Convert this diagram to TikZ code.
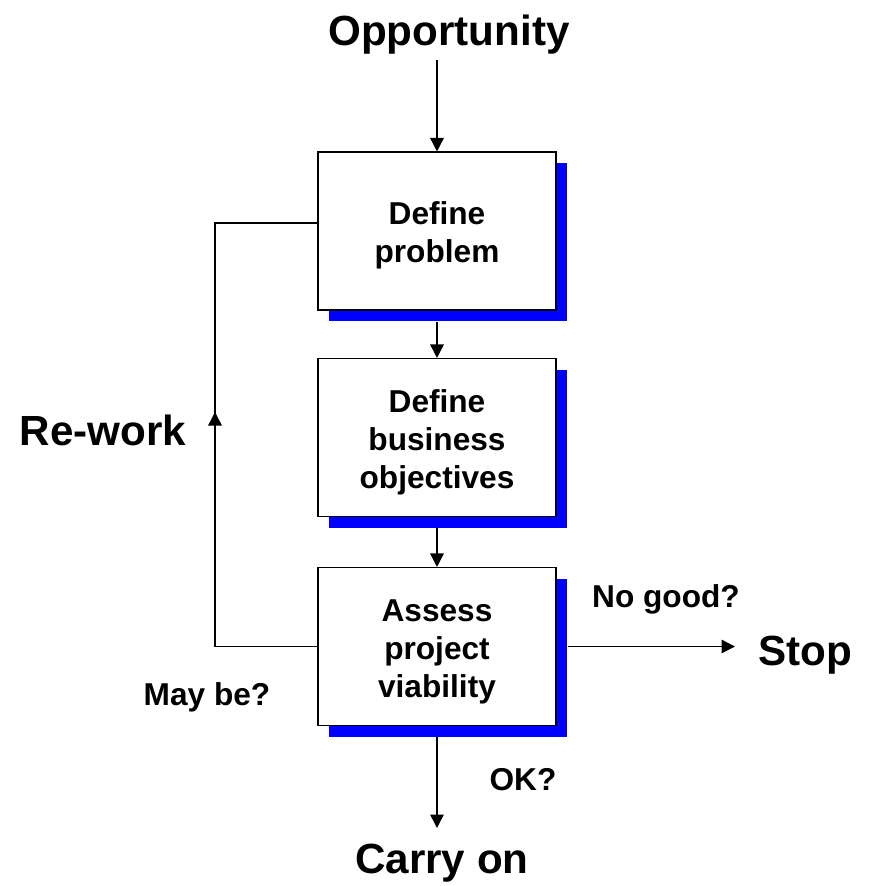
\documentclass[tikz,border=0pt]{standalone}
\usepackage{fontspec}
\setmainfont{Liberation Sans}
\usetikzlibrary{arrows.meta,shadows}
\tikzset{
  stepbox/.style={draw,line width=0.6pt,fill=white,minimum width=4.76cm,minimum height=3.16cm,
    inner sep=0pt,align=center,font=\fontsize{18}{21.6}\selectfont\bfseries,
    drop shadow={shadow xshift=0.22cm,shadow yshift=-0.22cm,fill=blue,opacity=1}},
  bigtext/.style={font=\fontsize{24}{28}\selectfont\bfseries,inner sep=0pt,anchor=base},
  smalltext/.style={font=\fontsize{18}{21.6}\selectfont\bfseries,inner sep=0pt,anchor=base},
  flow/.style={line width=0.85pt,-{Triangle[length=0.27cm,width=0.27cm]}},
  loopline/.style={line width=1.1pt}
}
\begin{document}
\begin{tikzpicture}
\useasboundingbox (0,0) rectangle (17.4,-17.72);
\node [bigtext] (opp) at (8.98,-0.9) {Opportunity};
\node [stepbox] (b1) at (8.74,-4.62) {\\[-3.3pt]Define\\problem};
\node [stepbox] (b2) at (8.74,-8.75) {\\[-3.3pt]Define\\business\\objectives};
\node [stepbox] (b3) at (8.74,-12.93) {\\[-3.3pt]Assess\\project\\viability};
\node [bigtext] (stop) at (16.1,-13.3) {Stop};
\node [bigtext] (carry) at (8.84,-17.46) {Carry on};
\node [bigtext] (rework) at (2.06,-8.9) {Re-work};
\node [smalltext] (nogood) at (13.32,-12.14) {No good?};
\node [smalltext] (maybe) at (4.14,-14.1) {May be?};
\node [smalltext] (ok) at (10.46,-15.8) {OK?};
\coordinate (opparr) at (8.74,-1.2);
\coordinate (rw) at (4.3,-8.24);
\coordinate (stoparr) at (14.7,-12.93);
\coordinate (carryarr) at (8.74,-16.56);
% main flow
\draw [flow] (opparr) -- (b1.north);
\draw [flow] ([yshift=-0.22cm]b1.south) -- (b2.north);
\draw [flow] ([yshift=-0.22cm]b2.south) -- (b3.north);
\draw [flow] ([xshift=0.22cm]b3.east) -- (stoparr);
\draw [flow] ([yshift=-0.22cm]b3.south) -- (carryarr);
% re-work loop
\draw [loopline] (b3.west) -| (rw);
\draw [flow] (4.3,-9) -- (rw);
\draw [loopline] (rw) |- ([yshift=0.16cm]b1.west);
\end{tikzpicture}
\end{document}
